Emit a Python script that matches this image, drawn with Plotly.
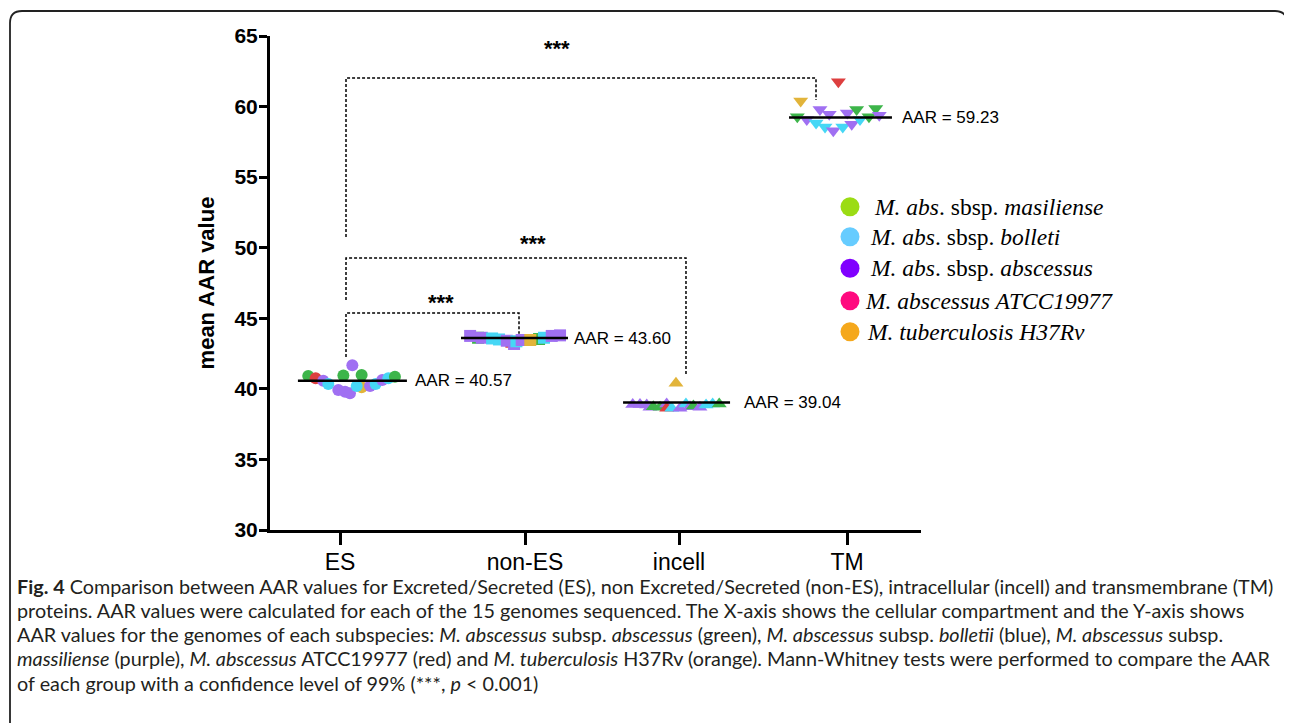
import plotly.graph_objects as go

# ---------------- data ----------------
categories = ["ES", "non-ES", "incell", "TM"]
cat_pos = [1.0, 2.095, 3.006, 4.0]
means = [40.57, 43.60, 39.04, 59.23]
mean_labels = ["AAR = 40.57", "AAR = 43.60", "AAR = 39.04", "AAR = 59.23"]

es_values = [40.91, 40.75, 40.58, 40.34, 39.92, 39.80, 39.68, 40.95, 41.67, 40.98,
             40.11, 40.20, 40.20, 40.34, 40.63, 40.75, 40.86]
es_jitter = [-0.188, -0.144, -0.099, -0.069, -0.010, 0.030, 0.059, 0.020, 0.073, 0.128,
             0.128, 0.099, 0.178, 0.211, 0.250, 0.286, 0.325]
es_colors = ["g", "r", "p", "c", "p", "p", "p", "g", "p", "g", "o", "c", "p", "c", "p", "c", "g"]

nes_values = [43.62, 43.34, 43.18, 43.53, 43.75, 43.62, 43.57, 43.50, 43.41, 43.37,
              43.46, 43.46, 43.62, 43.75, 43.79]
nes_jitter = [-0.278, -0.081, -0.065, 0.083, -0.325, -0.256, -0.195, -0.154, -0.108, -0.051,
              -0.020, 0.031, 0.112, 0.158, 0.207]
nes_colors = ["g", "r", "p", "g", "p", "p", "c", "c", "p", "c", "p", "o", "c", "p", "p"]

inc_values = [38.90, 38.90, 38.86, 38.69, 38.74, 38.69, 38.93, 38.62, 38.62, 38.62,
              38.93, 38.74, 38.78, 38.69, 38.86, 38.93, 38.93, 40.39]
inc_jitter = [-0.274, -0.231, -0.191, -0.172, -0.152, -0.112, -0.073, -0.073, -0.043, 0.006,
              0.041, 0.065, 0.085, 0.124, 0.160, 0.199, 0.238, -0.018]
inc_colors = ["p", "p", "p", "p", "g", "g", "p", "r", "c", "p", "c", "p", "g", "p", "c", "c", "g", "o"]

tm_values = [59.27, 59.08, 58.84, 59.79, 58.56, 59.45, 58.28, 58.56, 59.55, 58.75,
             59.79, 59.08, 59.27, 59.86, 59.38, 60.40, 61.75]
tm_jitter = [-0.294, -0.238, -0.183, -0.160, -0.130, -0.105, -0.081, -0.025, 0.002, 0.028,
             0.057, 0.077, 0.130, 0.170, 0.191, -0.274, -0.051]
tm_colors = ["g", "p", "c", "p", "c", "p", "p", "c", "p", "p", "g", "c", "g", "g", "p", "o", "r"]

legend_labels = [
    "<i>M. abs</i>. sbsp. <i>masiliense</i>",
    "<i>M. abs</i>. sbsp. <i>bolleti</i>",
    "<i>M. abs</i>. sbsp. <i>abscessus</i>",
    "<i>M. abscessus ATCC19977</i>",
    "<i>M. tuberculosis H37Rv</i>",
]

# significance brackets: (x_left, x_right, y_top, y_left_end, y_right_end)
brackets = [
    (1.0355, 3.8166, 62.02, 50.76, 60.47),
    (1.0355, 3.0473, 49.27, 46.30, 41.00),
    (1.0355, 2.0592, 45.37, 42.26, 43.90),
]
star_pos = [(2.284, 64.15), (2.142, 50.33), (1.598, 46.15)]

caption_lines = [
    "<b>Fig. 4</b> Comparison between AAR values for Excreted/Secreted (ES), non Excreted/Secreted (non-ES), intracellular (incell) and transmembrane (TM)",
    "proteins. AAR values were calculated for each of the 15 genomes sequenced. The X-axis shows the cellular compartment and the Y-axis shows",
    "AAR values for the genomes of each subspecies: <i>M. abscessus</i> subsp. <i>abscessus</i> (green), <i>M. abscessus</i> subsp. <i>bolletii</i> (blue), <i>M. abscessus</i> subsp.",
    "<i>massiliense</i> (purple), <i>M. abscessus</i> ATCC19977 (red) and <i>M. tuberculosis</i> H37Rv (orange). Mann-Whitney tests were performed to compare the AAR",
    "of each group with a confidence level of 99% (***, <i>p</i> &lt; 0.001)",
]

# ---------------- style ----------------
point_colors = {"g": "#3db54a", "c": "#46d7f5", "p": "#a070f2", "r": "#dd3f3f", "o": "#e2b43a"}
legend_colors = ["#9bdc14", "#66ccff", "#8000ff", "#ff0a7f", "#f5a81c"]

OFF = 8  # page body margin
W, H = 1292 - OFF, 723 - OFF
L, R, T, B = 270, 921, 36, 530  # plot area in reference-page pixels


def px_x(px):
    return (px - L) / (R - L)


def px_y(py):
    return (B - py) / (B - T)


fig = go.Figure()

groups = [
    (es_values, es_jitter, es_colors, "circle", 12),
    (nes_values, nes_jitter, nes_colors, "square", 12),
    (inc_values, inc_jitter, inc_colors, "triangle-up", 13),
    (tm_values, tm_jitter, tm_colors, "triangle-down", 13),
]
for gi, (vals, jit, cols, sym, size) in enumerate(groups):
    fig.add_trace(go.Scatter(
        x=[cat_pos[gi] + j for j in jit], y=vals, mode="markers",
        marker=dict(symbol=sym, size=size, color=[point_colors[c] for c in cols],
                    line=dict(width=0)),
        showlegend=False, hoverinfo="y"))

line_ext = [(-0.249, 0.396), (-0.379, 0.254), (-0.331, 0.302), (-0.343, 0.266)]
label_dx = [0.432, 0.276, 0.371, 0.314]
for gi in range(4):
    a, b = line_ext[gi]
    fig.add_trace(go.Scatter(
        x=[cat_pos[gi] + a, cat_pos[gi] + b], y=[means[gi], means[gi]], mode="lines",
        line=dict(color="black", width=2.5), showlegend=False, hoverinfo="skip"))
    fig.add_annotation(x=cat_pos[gi] + label_dx[gi], y=means[gi], text=mean_labels[gi],
                       showarrow=False, xanchor="left", yanchor="middle",
                       font=dict(family="Liberation Sans, Arial", size=17, color="black"))

for (xl, xr, yt, yl, yr) in brackets:
    fig.add_trace(go.Scatter(
        x=[xl, xl, xr, xr], y=[yl, yt, yt, yr], mode="lines",
        line=dict(color="black", width=1.5, dash="3px,2px"),
        showlegend=False, hoverinfo="skip"))
for (sx, sy) in star_pos:
    fig.add_annotation(x=sx, y=sy, text="<b>***</b>", showarrow=False,
                       xanchor="center", yanchor="middle",
                       font=dict(family="Liberation Sans, Arial", size=22, color="black"))

# custom legend
leg_cy = [206.7, 236.7, 268.3, 300.7, 331.7]
leg_tx = [872, 868, 868, 863, 865]
for i, lab in enumerate(legend_labels):
    fig.add_shape(type="circle", xref="paper", yref="paper",
                  xsizemode="pixel", ysizemode="pixel",
                  xanchor=px_x(850), yanchor=px_y(leg_cy[i]),
                  x0=-9.5, x1=9.5, y0=-9.5, y1=9.5,
                  fillcolor=legend_colors[i], line=dict(width=0))
    fig.add_annotation(xref="paper", yref="paper", x=px_x(leg_tx[i]), y=px_y(leg_cy[i]),
                       text=lab, showarrow=False, xanchor="left", yanchor="middle",
                       font=dict(family="Liberation Serif, Times New Roman", size=23.5,
                                 color="black"))

# caption
cap_y = [586, 610, 634, 658, 683]
for i, t in enumerate(caption_lines):
    fig.add_annotation(xref="paper", yref="paper", x=px_x(15), y=px_y(cap_y[i]),
                       text=t, showarrow=False, xanchor="left", yanchor="middle",
                       font=dict(family="Lato", size=19.8, color="#231f20"))

# rounded border
x0, x1, y0, y1, rr = px_x(10), px_x(1287), px_y(11), px_y(740), 12
sx = 1 / (R - L)
sy = 1 / (B - T)
path = (f"M {x0},{y1} L {x0},{y0 - rr*sy} Q {x0},{y0} {x0 + rr*sx},{y0} "
        f"L {x1 - rr*sx},{y0} Q {x1},{y0} {x1},{y0 - rr*sy} L {x1},{y1}")
fig.add_shape(type="path", xref="paper", yref="paper", path=path,
              line=dict(color="#222222", width=1.8))

fig.update_layout(
    width=W, height=H,
    margin=dict(l=L - OFF, r=W - (R - OFF), t=T - OFF, b=H - (B - OFF), pad=0),
    paper_bgcolor="white", plot_bgcolor="white",
    showlegend=False,
    xaxis=dict(range=[0.5858, 4.4379], tickmode="array", tickvals=cat_pos, ticktext=categories,
               showline=True, linecolor="black", linewidth=3, ticks="outside",
               ticklen=12, tickwidth=3, tickcolor="black", showgrid=False, zeroline=False,
               ticklabelstandoff=-3,
               tickfont=dict(family="Liberation Sans, Arial", size=23, color="black")),
    yaxis=dict(range=[30, 65], tickmode="array", tickvals=[30, 35, 40, 45, 50, 55, 60, 65],
               showline=True, linecolor="black", linewidth=3, ticks="outside",
               ticklen=8, tickwidth=3, tickcolor="black", showgrid=False, zeroline=False,
               ticklabelstandoff=-3,
               tickfont=dict(family="Liberation Sans, Arial", size=21, color="black",
                             weight="bold"),
               title=dict(text="<b>mean AAR value</b>", standoff=14,
                          font=dict(family="Liberation Sans, Arial", size=22, color="black"))),
)

fig.write_html("out.html")
